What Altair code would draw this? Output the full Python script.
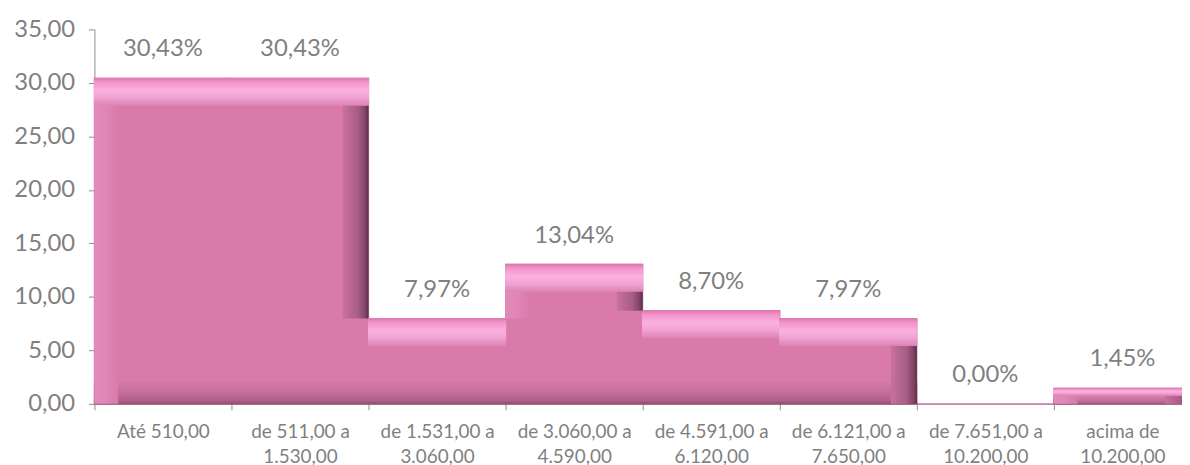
import altair as alt
import pandas as pd

titulo = "Gráfico 10 – Renda individual mensal"
categorias = [
    "Até 510,00",
    "de 511,00 a\n1.530,00",
    "de 1.531,00 a\n3.060,00",
    "de 3.060,00 a\n4.590,00",
    "de 4.591,00 a\n6.120,00",
    "de 6.121,00 a\n7.650,00",
    "de 7.651,00 a\n10.200,00",
    "acima de\n10.200,00",
]
percentuais = [30.43, 30.43, 7.97, 13.04, 8.70, 7.97, 0.00, 1.45]
y_ticks = [0, 5, 10, 15, 20, 25, 30, 35]

df = pd.DataFrame({"cat": categorias, "val": percentuais})
df["prox"] = df["val"].shift(-1).fillna(0)
df["ant"] = df["val"].shift(1).fillna(0)

FONT = "Lato"
GRAY = "#7F7F7F"
AXIS_GRAY = "#8C8C8C"

x_enc = alt.X(
    "cat:N",
    sort=categorias,
    scale=alt.Scale(paddingInner=0, paddingOuter=0, range=[0, 1104]),
    axis=alt.Axis(
        title=None,
        labelExpr="isValid(datum.value) ? split(datum.value, '\\n') : ''",
        labelFont=FONT,
        labelFontSize=19,
        labelLineHeight=25,
        labelColor=GRAY,
        labelPadding=13,
        labelAngle=0,
        tickBand="extent",
        tickSize=6,
        tickColor=AXIS_GRAY,
        domainColor=AXIS_GRAY,
        labelBaseline="top",
    ),
)
y_scale = alt.Scale(domain=[0, 35], nice=False, zero=True)
y_enc = alt.Y(
    "val:Q",
    scale=y_scale,
    axis=alt.Axis(
        title=None,
        values=y_ticks,
        grid=False,
        labelExpr="replace(format(datum.value, '.2f'), '.', ',')",
        labelFont=FONT,
        labelFontSize=24,
        labelColor=GRAY,
        labelPadding=14,
        tickSize=6,
        tickColor=AXIS_GRAY,
        domainColor=AXIS_GRAY,
    ),
)

base = alt.Chart(df)

def vgrad(stops):
    return alt.LinearGradient(
        gradient="linear",
        stops=[alt.GradientStop(color=c, offset=o) for o, c in stops],
        x1=0, x2=0, y1=0, y2=1,
    )

def hgrad(stops):
    return alt.LinearGradient(
        gradient="linear",
        stops=[alt.GradientStop(color=c, offset=o) for o, c in stops],
        x1=0, x2=1, y1=0, y2=0,
    )

MAIN = "#D97AAA"
main = base.mark_bar(color=MAIN, stroke=MAIN, strokeWidth=1.2).encode(x=x_enc, y=y_enc)

bot_grad = vgrad([(0, "#D27AA6"), (0.5, "#C26E98"), (0.85, "#B06088"), (1, "#8E4E70")])
bottom = (
    base.transform_calculate(b2="min(2.0, datum.val * 0.4)")
    .mark_bar(fill=bot_grad, stroke=bot_grad, strokeWidth=1.2)
    .encode(x=x_enc, y=alt.Y("b2:Q", scale=y_scale), y2=alt.datum(0))
)

left = (
    base.transform_filter("datum.val > datum.ant")
    .mark_bar(width=24, xOffset=-57, fill=hgrad([(0, "#E48BBB"), (0.5, "#E085B6"), (1, MAIN)]), strokeWidth=0)
    .encode(x=x_enc, y=alt.Y("val:Q", scale=y_scale), y2="ant:Q")
)

right = (
    base.transform_filter("datum.val > datum.prox")
    .mark_bar(width=26, xOffset=56, fill=hgrad([(0, "#C8729E"), (0.6, "#A85C86"), (0.9, "#7A4262"), (1, "#4E2A3E")]), strokeWidth=0)
    .encode(x=x_enc, y=alt.Y("val:Q", scale=y_scale), y2="prox:Q")
)

top_grad = vgrad([(0, "#DC7AAF"), (0.15, "#F294CA"), (0.45, "#FBB0E2"), (0.75, "#F0A0D0"), (1, "#DD86B6")])
top = (
    base.transform_calculate(t2="datum.val - min(2.5, datum.val * 0.45)")
    .mark_bar(fill=top_grad, stroke=top_grad, strokeWidth=1.2)
    .encode(x=x_enc, y=alt.Y("val:Q", scale=y_scale), y2="t2:Q")
)

labels = (
    base.transform_calculate(lbl="replace(format(datum.val, '.2f'), '.', ',') + '%'")
    .mark_text(baseline="bottom", dy=-17, font=FONT, fontSize=24, color=GRAY)
    .encode(x=x_enc, y=alt.Y("val:Q", scale=y_scale), text="lbl:N")
)

title_df = pd.DataFrame({"t": [titulo]})
title = (
    alt.Chart(title_df)
    .mark_text(align="left", baseline="alphabetic", font=FONT, fontSize=22, color=GRAY)
    .encode(x=alt.value(-70), y=alt.value(-23), text="t:N")
)

chart = (
    alt.layer(main, bottom, left, right, top, labels, title)
    .properties(
        width=1095,
        height=377,
        autosize=alt.AutoSizeParams(type="none"),
        padding={"left": 87, "top": 20, "right": 0, "bottom": 61},
    )
    .configure_view(stroke=None)
)

chart.save("out.html", embed_options={"renderer": "svg", "actions": False})
